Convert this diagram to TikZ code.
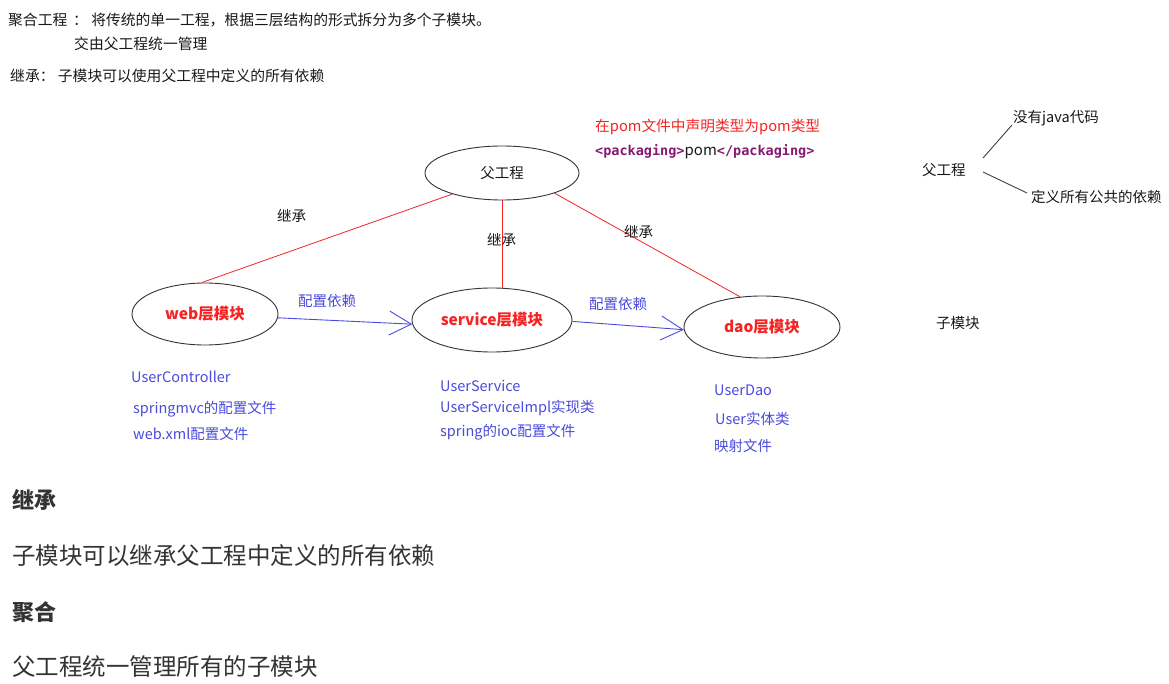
\documentclass[tikz,border=0pt]{standalone}
\usepackage{fontspec}
\setmainfont{Noto Sans CJK SC}
\newfontfamily\monob{DejaVu Sans Mono}
\usetikzlibrary{arrows.meta,shapes.geometric}
\definecolor{myred}{RGB}{245,35,35}
\definecolor{myblue}{RGB}{75,75,220}
\definecolor{tagpurple}{RGB}{135,25,115}
\definecolor{txt}{RGB}{25,25,25}
\definecolor{bodytxt}{RGB}{51,51,51}
\begin{document}
\begin{tikzpicture}[x=1pt,y=-1pt,
  lbl/.style={anchor=west, inner sep=0pt, font=\fontsize{14.5}{16}\selectfont, text=txt},
  toplbl/.style={lbl, font=\fontsize{14.8}{17}\selectfont},
  bluetxt/.style={lbl, text=myblue},
  module/.style={ellipse, draw=black!80, line width=0.9pt, inner sep=0pt, font=\bfseries\fontsize{15.5}{17}\selectfont, text=myred},
  inherit/.style={draw=myred, line width=0.8pt},
  dep/.style={draw=myblue, line width=0.9pt, -{Straight Barb[length=22pt,width=24pt,line width=0.9pt]}},
  thinline/.style={draw=black!75, line width=0.9pt},
  heading/.style={anchor=west, inner sep=0pt, font=\bfseries\fontsize{22}{26}\selectfont, text=bodytxt},
  body/.style={anchor=west, inner sep=0pt, font=\fontsize{23.5}{28}\selectfont, text=bodytxt}]
\useasboundingbox[fill=white] (0,0) rectangle (1169,684);

% top texts
\node[toplbl] (t1) at (8,20) {聚合工程 \,： 将传统的单一工程，根据三层结构的形式拆分为多个子模块。};
\node[toplbl] (t2) at (74,44) {交由父工程统一管理};
\node[toplbl] (t3) at (10,76) {继承： 子模块可以使用父工程中定义的所有依赖};

% pom note
\node[lbl, text=myred, font=\fontsize{14.7}{17}\selectfont] (pomnote) at (595,127) {在pom文件中声明类型为pom类型};
\node[lbl] (pack) at (595,152) {{\monob\bfseries\fontsize{13.5}{16}\selectfont\color{tagpurple}<packaging>}{\fontsize{15}{17}\selectfont pom}{\monob\bfseries\fontsize{13.5}{16}\selectfont\color{tagpurple}</packaging>}};

% ellipses
\node[ellipse, draw=black!80, line width=0.9pt, inner sep=0pt, minimum width=154pt, minimum height=54pt, font=\fontsize{14.5}{16}\selectfont, text=txt] (parent) at (502,173) {父工程};
\node[module, minimum width=146pt, minimum height=62pt] (web) at (205,314) {web层模块};
\node[module, minimum width=160pt, minimum height=64pt] (service) at (492,320) {service层模块};
\node[module, minimum width=156pt, minimum height=62pt] (dao) at (762,327) {dao层模块};

% inheritance lines
\draw[inherit] (parent.203) -- (web.96);
\draw[inherit] (parent.south) -- (parent.south |- service.north);
\draw[inherit] (parent.-21) -- (dao.126);
\node[lbl] (i1) at (277,216) {继承};
\node[lbl] (i2) at (487,240) {继承};
\node[lbl] (i3) at (624,232) {继承};

% dependency arrows
\draw[dep] (web.-3) -- (service.183);
\draw[dep] (service.-1) -- (dao.182);
\node[bluetxt] (d1) at (298,301) {配置依赖};
\node[bluetxt] (d2) at (589,304) {配置依赖};

% module contents
\node[bluetxt] (w1) at (131,377) {UserController};
\node[bluetxt] (w2) at (133,409) {springmvc的配置文件};
\node[bluetxt] (w3) at (133,434) {web.xml配置文件};
\node[bluetxt] (s1) at (440,386) {UserService};
\node[bluetxt] (s2) at (440,408) {UserServiceImpl实现类};
\node[bluetxt] (s3) at (440,432) {spring的ioc配置文件};
\node[bluetxt] (o1) at (714,390) {UserDao};
\node[bluetxt] (o2) at (715,419) {User实体类};
\node[bluetxt] (o3) at (714,446) {映射文件};

% right side
\node[lbl] (rp) at (922,170) {父工程};
\node[lbl] (java) at (1013,118) {没有java代码};
\node[lbl] (pub) at (1031,197) {定义所有公共的依赖};
\coordinate (a1) at (983,158);
\coordinate (a2) at (1012,125);
\coordinate (b1) at (983,172);
\coordinate (b2) at (1027,193);
\draw[thinline] (a1) -- (a2);
\draw[thinline] (b1) -- (b2);
\node[lbl] (sub) at (936,323) {子模块};

% bottom
\node[heading] (h1) at (12,500) {继承};
\node[body] (b1t) at (12,556) {子模块可以继承父工程中定义的所有依赖};
\node[heading] (h2) at (12,612) {聚合};
\node[body] (b2t) at (12,667) {父工程统一管理所有的子模块};
\end{tikzpicture}
\end{document}
